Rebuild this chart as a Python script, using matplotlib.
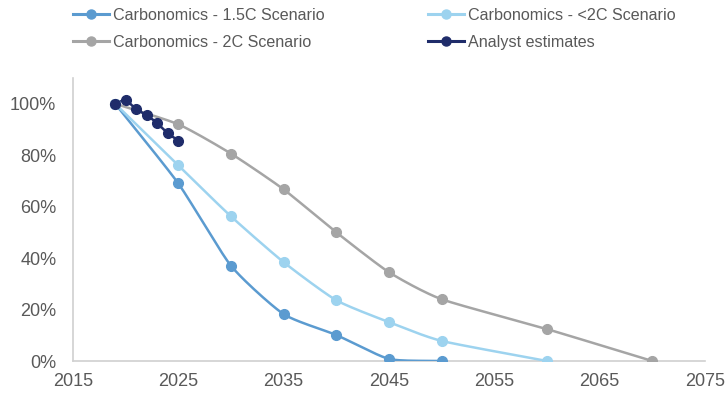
import matplotlib.pyplot as plt
import numpy as np
from matplotlib.ticker import FuncFormatter

plt.rcParams['font.family'] = ['Liberation Sans', 'DejaVu Sans']

# scenario data (share of 2019 level, %)
years_15 = [2019, 2025, 2030, 2035, 2040, 2045, 2050]
vals_15 = [100, 69, 37, 18.2, 10.1, 0.8, 0]

years_lt2 = [2019, 2025, 2030, 2035, 2040, 2045, 2050, 2060]
vals_lt2 = [100, 76, 56.2, 38.4, 23.6, 15.1, 7.8, 0]

years_2c = [2019, 2025, 2030, 2035, 2040, 2045, 2050, 2060, 2070]
vals_2c = [100, 92, 80.6, 66.7, 50, 34.5, 24, 12.4, 0]

years_an = [2019, 2020, 2021, 2022, 2023, 2024, 2025]
vals_an = [100, 101.4, 97.8, 95.6, 92.4, 88.5, 85.7]

C_15 = '#5b9bd0'
C_LT2 = '#9dd3ef'
C_2C = '#a5a5a5'
C_AN = '#1f2c6a'


def smooth(x, y, n=30):
    # Catmull-Rom style curve through the points (spreadsheet "smoothed line")
    x = np.asarray(x, float)
    y = np.asarray(y, float)
    px = np.concatenate([[2 * x[0] - x[1]], x, [2 * x[-1] - x[-2]]])
    py = np.concatenate([[2 * y[0] - y[1]], y, [2 * y[-1] - y[-2]]])
    xs, ys = [], []
    t = np.linspace(0, 1, n)
    h00 = 2 * t**3 - 3 * t**2 + 1
    h10 = t**3 - 2 * t**2 + t
    h01 = -2 * t**3 + 3 * t**2
    h11 = t**3 - t**2
    for i in range(1, len(px) - 2):
        p0, p1, p2, p3 = px[i - 1], px[i], px[i + 1], px[i + 2]
        q0, q1, q2, q3 = py[i - 1], py[i], py[i + 1], py[i + 2]
        m1x, m1y = (p2 - p0) / 2 * 0.6, (q2 - q0) / 2 * 0.6
        m2x, m2y = (p3 - p1) / 2 * 0.6, (q3 - q1) / 2 * 0.6
        xs.append(h00 * p1 + h10 * m1x + h01 * p2 + h11 * m2x)
        ys.append(h00 * q1 + h10 * m1y + h01 * q2 + h11 * m2y)
    return np.concatenate(xs), np.concatenate(ys)


fig = plt.figure(figsize=(7.28, 3.96), dpi=100)
ax = fig.add_axes([73 / 728, 35 / 396, 632 / 728, 283 / 396])

series = [
    ('Carbonomics - 1.5C Scenario', years_15, vals_15, C_15),
    ('Carbonomics - 2C Scenario', years_2c, vals_2c, C_2C),
    ('Carbonomics - <2C Scenario', years_lt2, vals_lt2, C_LT2),
    ('Analyst estimates', years_an, vals_an, C_AN),
]
handles = []
for label, xs, ys, c in series:
    sx, sy = smooth(xs, ys)
    ax.plot(sx, sy, color=c, lw=1.8, zorder=3, solid_capstyle='round')
    ax.plot(xs, ys, 'o', color=c, ms=7, zorder=4)
    h, = ax.plot([], [], color=c, lw=2.2, marker='o', ms=6.5, label=label)
    handles.append(h)

ax.set_xlim(2015, 2075)
ax.set_ylim(0, 110)
ax.set_xticks(range(2015, 2076, 10))
ax.set_yticks(range(0, 101, 20))
ax.yaxis.set_major_formatter(FuncFormatter(lambda v, p: f'{v:.0f}%'))
ax.tick_params(length=0, labelsize=13, colors='#595959')
ax.tick_params(axis='x', pad=9)
ax.tick_params(axis='y', pad=12)
for s in ['top', 'right']:
    ax.spines[s].set_visible(False)
for s in ['left', 'bottom']:
    ax.spines[s].set_color('#d0d0d0')
    ax.spines[s].set_linewidth(1.2)

leg = fig.legend(handles=handles, ncol=2, loc='upper left',
                 bbox_to_anchor=(73 / 728, 1 - 8 / 396), frameon=False,
                 fontsize=11.6, handlelength=2.24, handletextpad=0.25,
                 columnspacing=6.4, labelspacing=0.74, borderpad=0,
                 borderaxespad=0)
for t in leg.get_texts():
    t.set_color('#595959')

fig.savefig('out.png', dpi=100)
